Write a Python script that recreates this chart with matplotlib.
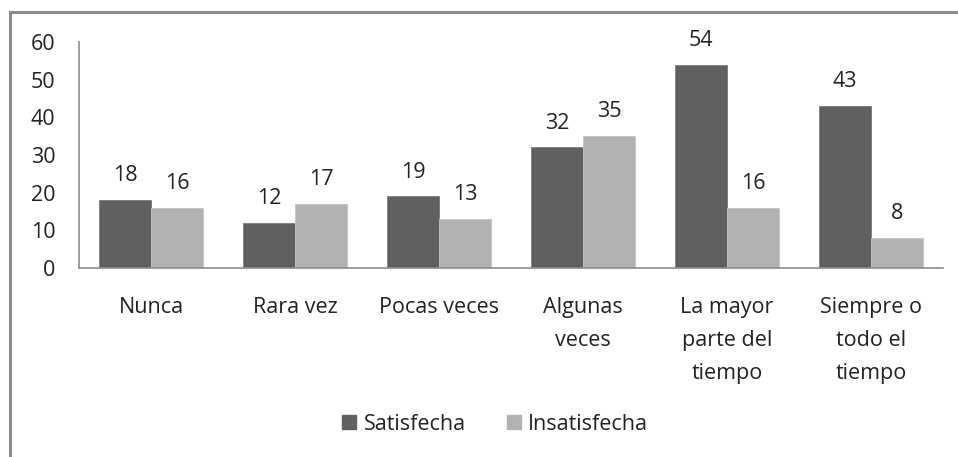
import numpy as np
import matplotlib
matplotlib.use("Agg")
import matplotlib.pyplot as plt
from matplotlib.lines import Line2D
from matplotlib.patches import Patch

categories = ["Nunca", "Rara vez", "Pocas veces", "Algunas\nveces",
              "La mayor\nparte del\ntiempo", "Siempre o\ntodo el\ntiempo"]
satisfecha = [18, 12, 19, 32, 54, 43]
insatisfecha = [16, 17, 13, 35, 16, 8]
series_names = ["Satisfecha", "Insatisfecha"]
y_ticks = [0, 10, 20, 30, 40, 50, 60]

DARK = "#606060"
LIGHT = "#b2b2b2"
TEXT = "#222222"
AXIS = "#8c8c8c"

plt.rcParams['font.family'] = ['Open Sans', 'DejaVu Sans']
FS = 15.5

W, H = 958, 457
fig = plt.figure(figsize=(W / 100, H / 100), dpi=100)
fig.patch.set_facecolor("white")

# axes box in pixels: left 79, right 943, top (y=60) 42, bottom 268
ax = fig.add_axes([79 / W, 1 - 268 / H, (943 - 79) / W, (268 - 42) / H])

x = np.arange(len(categories))
bw = 0.36
b1 = ax.bar(x - bw / 2, satisfecha, bw, color=DARK, edgecolor="#7a7a7a", linewidth=0.6)
b2 = ax.bar(x + bw / 2, insatisfecha, bw, color=LIGHT, edgecolor="#c4c4c4", linewidth=0.6)

for bars, vals in ((b1, satisfecha), (b2, insatisfecha)):
    for bar, v in zip(bars, vals):
        ax.annotate(str(v), (bar.get_x() + bar.get_width() / 2, v),
                    xytext=(0, 13.5), textcoords="offset points",
                    ha="center", va="baseline", fontsize=FS, color=TEXT)

ax.set_xlim(-0.5, len(categories) - 0.5)
ax.set_ylim(0, 60)
ax.set_yticks(y_ticks)
ax.set_yticklabels([str(t) for t in y_ticks], fontsize=FS, color=TEXT)
ax.set_xticks(x)
ax.set_xticklabels(categories, fontsize=FS, color=TEXT, linespacing=1.75, va="top")
ax.tick_params(axis="both", length=0)
ax.tick_params(axis="y", pad=17)
ax.tick_params(axis="x", pad=21)

for s in ("top", "right"):
    ax.spines[s].set_visible(False)
for s in ("left", "bottom"):
    ax.spines[s].set_color(AXIS)
    ax.spines[s].set_linewidth(1.2)

handles = [Patch(facecolor=DARK, edgecolor=DARK), Patch(facecolor=LIGHT, edgecolor=LIGHT)]
fig.legend(handles, series_names, loc="center", bbox_to_anchor=(495 / W, 1 - 424 / H),
           ncol=2, frameon=False, fontsize=FS, handlelength=0.65, handleheight=0.65,
           handletextpad=0.35, columnspacing=1.9, labelcolor=TEXT)

# outer chart frame (only left and top edges visible in crop)
fig.add_artist(Line2D([10 / W, 10 / W], [0, 1 - 12 / H], transform=fig.transFigure,
                      color="#8a8a8a", linewidth=2.2))
fig.add_artist(Line2D([10 / W, 1], [1 - 12 / H, 1 - 12 / H], transform=fig.transFigure,
                      color="#8a8a8a", linewidth=2.2))

fig.savefig("out.png", dpi=100)
